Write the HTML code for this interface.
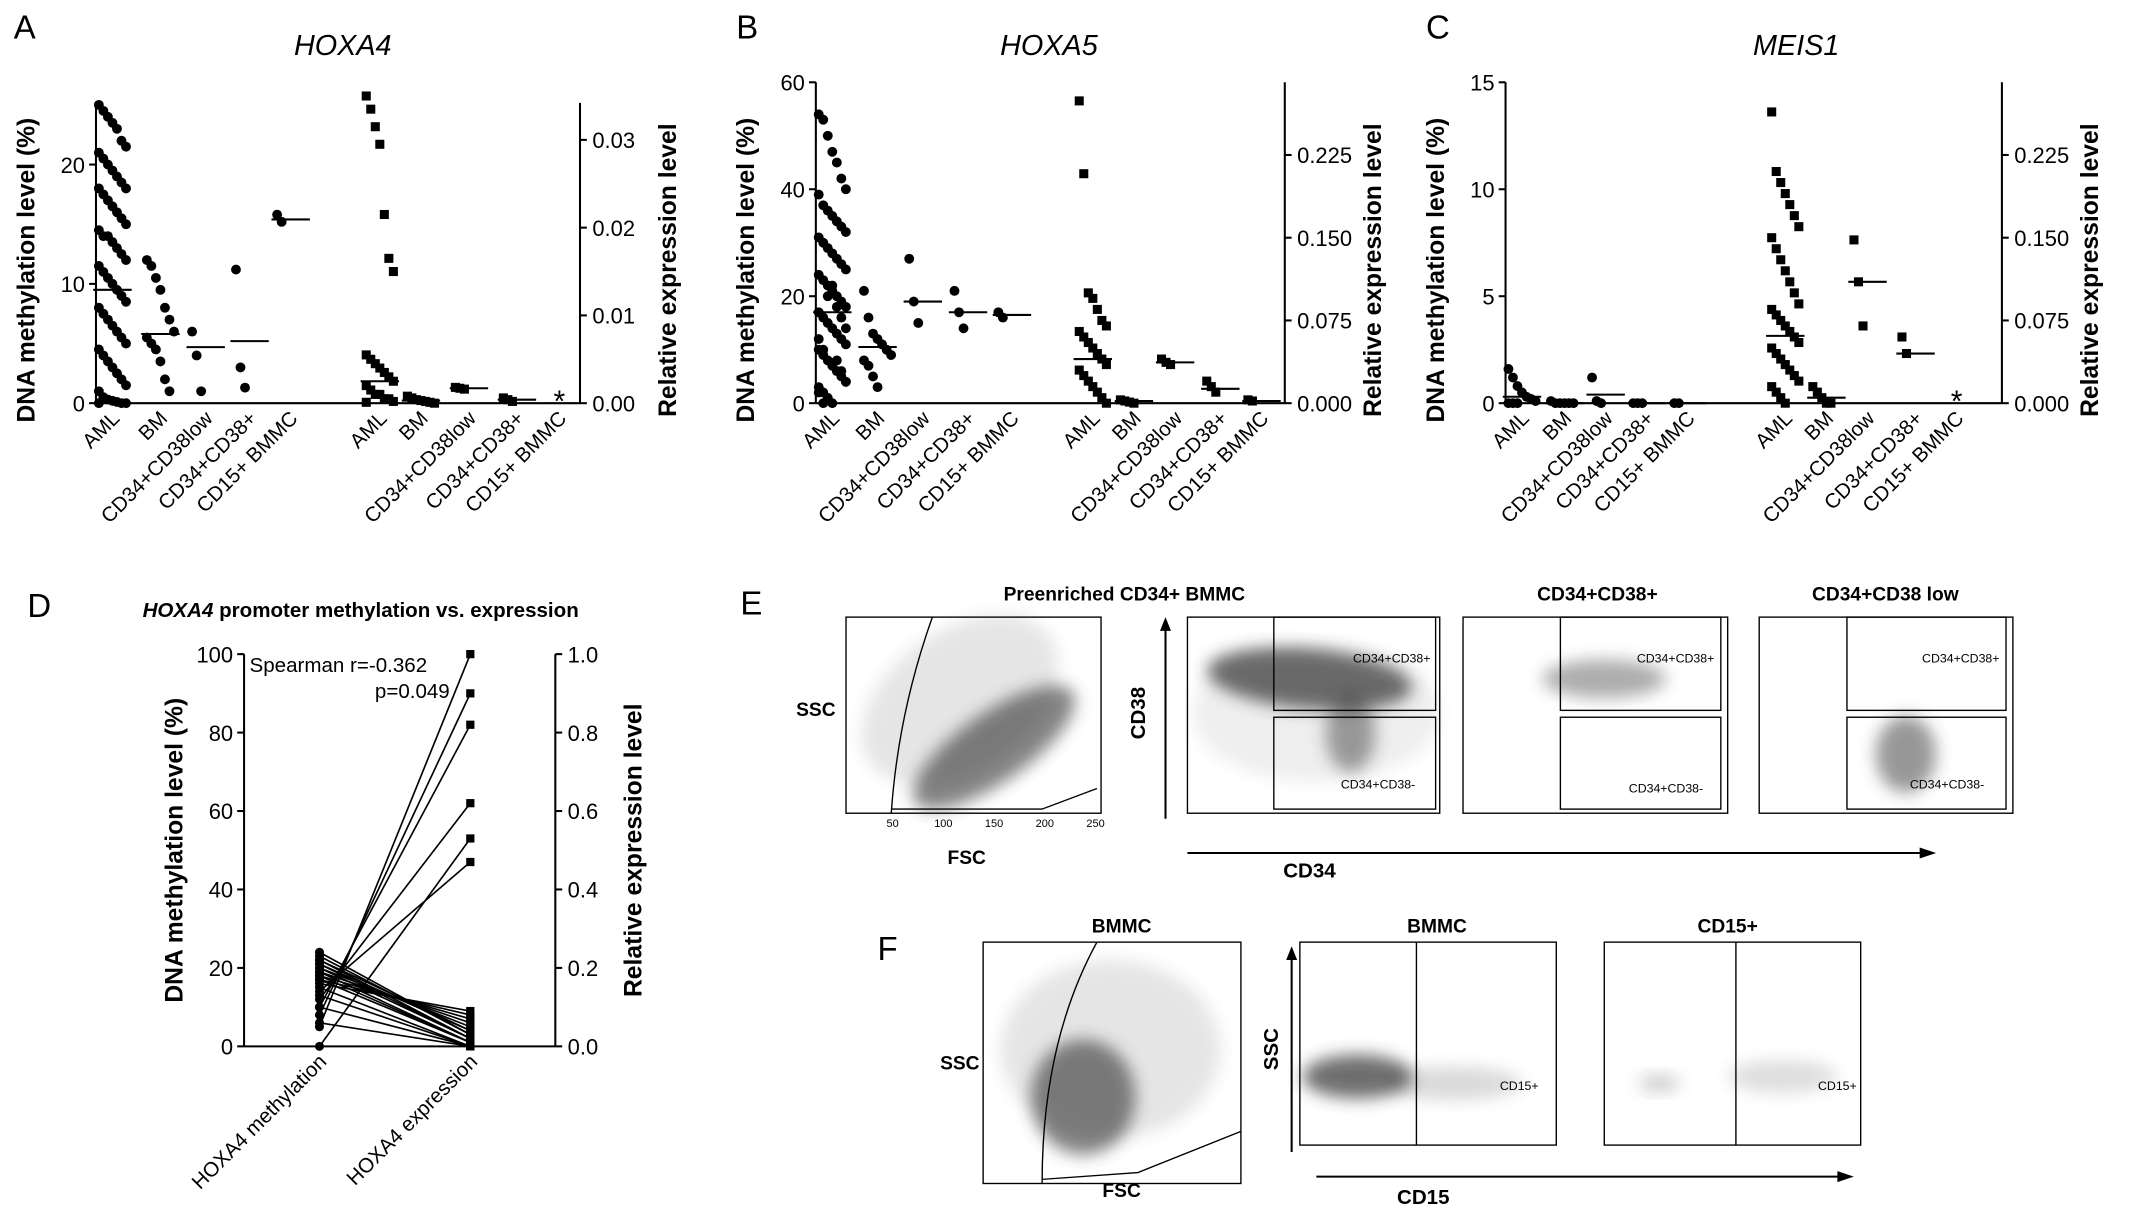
<!DOCTYPE html>
<html><head><meta charset="utf-8"><style>
html,body{margin:0;padding:0;background:#fff}
svg{display:block;font-family:"Liberation Sans",Arial,sans-serif}
</style></head><body>
<svg id="fig" xmlns="http://www.w3.org/2000/svg" width="2150" height="1226" viewBox="0 0 1568 894" preserveAspectRatio="none">
<defs>
<filter id="blur" x="-50%" y="-50%" width="200%" height="200%"><feGaussianBlur stdDeviation="6"/></filter>
</defs>
</svg>
<script>
// ===== Panel A data (HOXA4) =====
const catsA = ["AML","BM","CD34+CD38low","CD34+CD38+","CD15+ BMMC"];
const methA = [
 [25,24.5,24,23.5,23,22,21.5,21,20.5,20,19.5,19,18.5,18,18,17.5,17,16.5,16,15.5,15,14.5,14,14,13.5,13,12.5,12,11.5,11,10.5,10,9.5,9,8.5,8,7.5,7,6.5,6,5.5,5,4.5,4,3.5,3,2.5,2,1.5,1,0.5,0.3,0.2,0.1,0,0,0],
 [12,11.5,10.5,9.5,8,7,6,5.5,5,4.5,3.5,2,1],
 [6,4,1],[11.2,3,1.3],[15.8,15.2]];
const methAMed = [9.5,5.8,4.7,5.2,15.4];
const exprA = [
 [0.035,0.0335,0.0315,0.0295,0.0215,0.0165,0.015,0.0055,0.005,0.0045,0.004,0.0035,0.003,0.0025,0.002,0.0015,0.001,0.001,0.0005,0.0005,0.0002,0.0001],
 [0.0008,0.0006,0.0004,0.0003,0.0002,0.0001,0],
 [0.0018,0.0017,0.0016],[0.0006,0.0004,0.0002],[]];
const exprAMed = [0.0025,0.0003,0.0017,0.0004,null];
const ticksAL = [0,10,20], ticksAR = ["0.00","0.01","0.02","0.03"];
// ===== Panel B data (HOXA5) =====
const methB = [
 [54,53,50,47,45,42,40,39,37,36,35,34,33,32,31,30,29,28,27,26,25,24,23,22,21,20,19,18,17,16,15,14,13,12,11,10,9,8,7,6,5,4,3,2,1,0,18,16,14,12,10,20,22,8,6,4,2,0],
 [21,16,13,12,11,10,9,8,7,5,3],[27,19,15],[21,17,14],[17,16]];
const methBMed = [17,10.5,19,17,16.5];
const exprB = [
 [0.274,0.208,0.1,0.095,0.085,0.075,0.07,0.065,0.06,0.055,0.05,0.045,0.04,0.035,0.03,0.025,0.02,0.015,0.01,0.005,0],
 [0.003,0.002,0.001,0],[0.04,0.037,0.035],[0.02,0.015,0.01],[0.003,0.002]];
const exprBMed = [0.04,0.002,0.037,0.013,0.002];
const ticksBL = [0,20,40,60], ticksBR = ["0.000","0.075","0.150","0.225"];
// ===== Panel C data (MEIS1) =====
const methC = [[1.6,1.2,0.8,0.5,0.3,0.2,0.1,0,0,0],[0.1,0,0,0,0,0],[1.2,0.1,0],[0,0,0],[0,0]];
const methCMed = [0.3,0,0.4,0,0];
const exprC = [
 [0.264,0.21,0.2,0.19,0.18,0.17,0.16,0.15,0.14,0.13,0.12,0.11,0.1,0.09,0.085,0.08,0.075,0.07,0.065,0.06,0.055,0.05,0.045,0.04,0.035,0.03,0.025,0.02,0.015,0.01,0.005,0],
 [0.015,0.01,0.005,0,0],[0.148,0.11,0.07],[0.06,0.045],[]];
const exprCMed = [0.061,0.005,0.11,0.045,null];
const ticksCL = [0,5,10,15], ticksCR = ["0.000","0.075","0.150","0.225"];
// ===== Panel D data =====
const dCats = ["HOXA4 methylation","HOXA4 expression"];
const dMeth = [5,8,10,12,0,14,16,17,18,19,20,21,22,23,24,22,21,20,19,18,17,15,13,10,6];
const dExpr = [1.0,0.9,0.82,0.62,0.53,0.47,0.09,0.08,0.07,0.06,0.05,0.04,0.04,0.03,0.03,0.02,0.02,0.02,0.01,0.01,0.01,0,0,0,0];
const dTicksL = [0,20,40,60,80,100], dTicksR = ["0.0","0.2","0.4","0.6","0.8","1.0"];

const svg = document.getElementById('fig');
const NS = "http://www.w3.org/2000/svg";
function mk(tag, attrs, parent){const e=document.createElementNS(NS,tag);for(const k in attrs)e.setAttribute(k,attrs[k]);(parent||svg).appendChild(e);return e;}
function txt(x,y,s,attrs,parent){const e=mk('text',Object.assign({x:x,y:y},attrs||{}),parent);e.textContent=s;return e;}

function dotPanel(g, cfg){
  const y0=294;
  const yL=v=>y0-(v/cfg.lMax)*(y0-cfg.lTop);
  const yR=v=>y0-(v/cfg.rMax)*(y0-cfg.rTop);
  mk('line',{x1:cfg.xl,y1:cfg.axTop,x2:cfg.xl,y2:y0,stroke:'#000','stroke-width':1.5},g);
  mk('line',{x1:cfg.xr,y1:cfg.axTop,x2:cfg.xr,y2:y0,stroke:'#000','stroke-width':1.5},g);
  mk('line',{x1:cfg.xl,y1:y0,x2:cfg.xr,y2:y0,stroke:'#000','stroke-width':1.5},g);
  cfg.ticksL.forEach(t=>{const y=yL(t);mk('line',{x1:cfg.xl-5,y1:y,x2:cfg.xl,y2:y,stroke:'#000','stroke-width':1.5},g);
    const e=txt(cfg.xl-8,y+6,String(t),{'font-size':16,'text-anchor':'end'},g);});
  cfg.ticksR.forEach(t=>{const y=yR(parseFloat(t));mk('line',{x1:cfg.xr,y1:y,x2:cfg.xr+5,y2:y,stroke:'#000','stroke-width':1.5},g);
    const e=txt(cfg.xr+9,y+6,t,{'font-size':16},g);});
  const yl=txt(0,0,'DNA methylation level (%)',{'font-size':18,'font-weight':'bold','text-anchor':'middle',transform:`translate(${cfg.xl-45},${(y0+60)/2+20}) rotate(-90)`},g);
  
  const yr=txt(0,0,'Relative expression level',{'font-size':18,'font-weight':'bold','text-anchor':'middle',transform:`translate(${cfg.xr+70},${(y0+60)/2+20}) rotate(-90)`},g);
  
  const tt=txt(cfg.titleX,40,cfg.title,{'font-size':21,'font-style':'italic','text-anchor':'middle'},g);
  
  const pl=txt(cfg.labX,28,cfg.lab,{'font-size':24},g);
  
  function group(vals, med, xc, yf, square){
    vals.forEach((v,i)=>{const off=((i%7)-3)*3.3;const y=yf(v);
      const m=square?mk('rect',{x:xc+off-3.3,y:y-3.3,width:6.6,height:6.6,fill:'#000'},g):mk('circle',{cx:xc+off,cy:y,r:3.6,fill:'#000'},g);
      });
    if(med!==null){const l=mk('line',{x1:xc-14,y1:yf(med),x2:xc+14,y2:yf(med),stroke:'#000','stroke-width':1.5},g);
      }
  }
  catsA.forEach((c,i)=>{
    group(cfg.meth[i],cfg.methMed[i],cfg.xm[i],yL,false);
    group(cfg.expr[i],cfg.exprMed[i],cfg.xe[i],yR,true);
    [cfg.xm[i],cfg.xe[i]].forEach(x=>{const e=txt(0,0,c,{'font-size':15,'text-anchor':'end',transform:`translate(${x+6},${y0+12}) rotate(-45)`},g);
      });
  });
  cfg.star.forEach(x=>{const s=txt(x,y0+6,'*',{'font-size':22,'text-anchor':'middle'},g);});
}
let gA=mk('g',{});
dotPanel(gA,{xl:70,xr:423,axTop:75,lMax:20,lTop:120,rMax:0.03,rTop:102,ticksL:ticksAL,ticksR:ticksAR,meth:methA,methMed:methAMed,expr:exprA,exprMed:exprAMed,
 xm:[82,117,150,182,212],xe:[277,307,342,377,408],title:'HOXA4',titleX:250,lab:'A',labX:10,star:[408]});
let gB=mk('g',{});
dotPanel(gB,{xl:595,xr:937,axTop:60,lMax:60,lTop:60,rMax:0.225,rTop:113,ticksL:ticksBL,ticksR:ticksBR,meth:methB,methMed:methBMed,expr:exprB,exprMed:exprBMed,
 xm:[607,640,673,706,738],xe:[797,827,857,890,920],title:'HOXA5',titleX:765,lab:'B',labX:537,star:[]});
let gC=mk('g',{});
dotPanel(gC,{xl:1098,xr:1460,axTop:60,lMax:15,lTop:60,rMax:0.225,rTop:113,ticksL:ticksCL,ticksR:ticksCR,meth:methC,methMed:methCMed,expr:exprC,exprMed:exprCMed,
 xm:[1110,1141,1171,1201,1231],xe:[1302,1332,1362,1397,1427],title:'MEIS1',titleX:1310,lab:'C',labX:1040,star:[1427]});

// ===== Panel D =====
(function(){
 const g=mk('g',{});
 const y0=763,yTop=477,xl=178,xr=405,xa=233,xb=343;
 const yL=v=>y0-v/100*(y0-yTop), yR=v=>y0-v*(y0-yTop);
 mk('line',{x1:xl,y1:yTop,x2:xl,y2:y0,stroke:'#000','stroke-width':1.5},g);
 mk('line',{x1:xr,y1:yTop,x2:xr,y2:y0,stroke:'#000','stroke-width':1.5},g);
 mk('line',{x1:xl,y1:y0,x2:xr,y2:y0,stroke:'#000','stroke-width':1.5},g);
 dTicksL.forEach(t=>{const y=yL(t);mk('line',{x1:xl-5,y1:y,x2:xl,y2:y,stroke:'#000','stroke-width':1.5},g);const e=txt(xl-8,y+6,String(t),{'font-size':16,'text-anchor':'end'},g);});
 dTicksR.forEach(t=>{const y=yR(parseFloat(t));mk('line',{x1:xr,y1:y,x2:xr+5,y2:y,stroke:'#000','stroke-width':1.5},g);const e=txt(xr+9,y+6,t,{'font-size':16},g);});
 dMeth.forEach((m,i)=>{const l=mk('line',{x1:xa,y1:yL(m),x2:xb,y2:yR(dExpr[i]),stroke:'#000','stroke-width':1.2},g);
   const c=mk('circle',{cx:xa,cy:yL(m),r:3.3,fill:'#000'},g);
   const s=mk('rect',{x:xb-3,y:yR(dExpr[i])-3,width:6,height:6,fill:'#000'},g);});
 dCats.forEach((c,i)=>{const x=i?xb:xa;const e=txt(0,0,c,{'font-size':15,'text-anchor':'end',transform:`translate(${x+6},${y0+12}) rotate(-45)`},g);});
 let e=txt(0,0,'DNA methylation level (%)',{'font-size':18,'font-weight':'bold','text-anchor':'middle',transform:`translate(133,620) rotate(-90)`},g);
 e=txt(0,0,'Relative expression level',{'font-size':18,'font-weight':'bold','text-anchor':'middle',transform:`translate(468,620) rotate(-90)`},g);
 e=txt(20,450,'D',{'font-size':24},g);
 e=txt(104,450,'',{'font-size':15,'font-weight':'bold'},g);e.innerHTML='<tspan font-style="italic">HOXA4</tspan> promoter methylation vs. expression';
 e=txt(182,490,'Spearman r=-0.362',{'font-size':15},g);
 e=txt(328,509,'p=0.049',{'font-size':15,'text-anchor':'end'},g);
})();

// ===== Flow cytometry panels E & F =====
function flowBox(g,x1,y1,x2,y2,name){const r=mk('rect',{x:x1,y:y1,width:x2-x1,height:y2-y1,fill:'#fff',stroke:'#000','stroke-width':1},g);}
function cloud(g,cx,cy,rx,ry,rot,op){const e=mk('ellipse',{cx:cx,cy:cy,rx:rx,ry:ry,fill:'#333',opacity:op,filter:'url(#blur)',transform:`rotate(${rot} ${cx} ${cy})`},g);}
function label(g,x,y,s,size,bold,anchor,name,rot){const a={'font-size':size,'text-anchor':anchor||'middle'};if(bold)a['font-weight']='bold';if(rot){a.transform=`rotate(-90 ${x} ${y})`;}const e=txt(x,y,s,a,g);return e;}
function gate(g,x1,y1,x2,y2,lab,lx,ly){const r=mk('rect',{x:x1,y:y1,width:x2-x1,height:y2-y1,fill:'none',stroke:'#000','stroke-width':1},g);label(g,lx,ly,lab,9,false,'middle','gate-label');}
(function(){
 const g=mk('g',{});
 label(g,540,448,'E',24,false,'start','panel-label');
 label(g,820,438,'Preenriched CD34+ BMMC',14,true,'middle','plot-title');
 label(g,1165,438,'CD34+CD38+',14,true,'middle','plot-title');
 label(g,1375,438,'CD34+CD38 low',14,true,'middle','plot-title');
 flowBox(g,617,450,803,593,'fsc-ssc-plot');
 cloud(g,725,545,70,25,-35,0.6);cloud(g,700,510,80,50,-35,0.12);
 mk('path',{d:'M650 593 Q655 520 680 450',fill:'none',stroke:'#000'},g);
 mk('path',{d:'M650 590 L760 590 L800 575',fill:'none',stroke:'#000'},g);
 label(g,595,522,'SSC',14,true,'middle','y-axis-title');
 label(g,705,630,'FSC',14,true,'middle','x-axis-title');
 ['50','100','150','200','250'].forEach((t,i)=>label(g,651+i*37,603,t,8,false,'middle','x-tick'));
 flowBox(g,866,450,1050,593,'cd34-cd38-plot');
 cloud(g,955,495,75,22,5,0.7);cloud(g,985,535,18,28,0,0.45);cloud(g,960,520,90,50,0,0.08);
 gate(g,929,450,1047,518,'CD34+CD38+',1015,483);gate(g,929,523,1047,590,'CD34+CD38-',1005,575);
 flowBox(g,1067,450,1260,593,'cd34-cd38pos-plot');
 cloud(g,1170,495,45,14,0,0.4);
 gate(g,1138,450,1255,518,'CD34+CD38+',1222,483);gate(g,1138,523,1255,590,'CD34+CD38-',1215,578);
 flowBox(g,1283,450,1468,593,'cd34-cd38low-plot');
 cloud(g,1390,550,22,28,0,0.5);
 gate(g,1347,450,1463,518,'CD34+CD38+',1430,483);gate(g,1347,523,1463,590,'CD34+CD38-',1420,575);
 label(g,835,520,'CD38',15,true,'middle','y-axis-title',true);
 mk('line',{x1:850,y1:597,x2:850,y2:455,stroke:'#000','stroke-width':1.5},g);
 mk('path',{d:'M846 460 L850 450 L854 460 Z',fill:'#000'},g);
 mk('line',{x1:866,y1:622,x2:1405,y2:622,stroke:'#000','stroke-width':1.5},g);
 mk('path',{d:'M1400 618 L1412 622 L1400 626 Z',fill:'#000'},g);
 label(g,955,640,'CD34',15,true,'middle','x-axis-title');
})();
(function(){
 const g=mk('g',{});
 label(g,640,700,'F',24,false,'start','panel-label');
 label(g,818,680,'BMMC',14,true,'middle','plot-title');
 label(g,1048,680,'BMMC',14,true,'middle','plot-title');
 label(g,1260,680,'CD15+',14,true,'middle','plot-title');
 flowBox(g,717,687,905,863,'fsc-ssc-plot');
 cloud(g,790,800,38,42,0,0.6);cloud(g,810,765,80,65,0,0.12);
 mk('path',{d:'M760 863 Q760 760 800 687',fill:'none',stroke:'#000'},g);
 mk('path',{d:'M760 860 L830 855 L905 825',fill:'none',stroke:'#000'},g);
 label(g,700,780,'SSC',14,true,'middle','y-axis-title');
 label(g,818,873,'FSC',14,true,'middle','x-axis-title');
 flowBox(g,948,687,1135,835,'ssc-cd15-plot');
 cloud(g,990,785,40,16,0,0.7);cloud(g,1060,790,50,12,0,0.18);
 mk('line',{x1:1033,y1:687,x2:1033,y2:835,stroke:'#000'},g);
 label(g,1108,795,'CD15+',9,false,'middle','gate-label');
 flowBox(g,1170,687,1357,835,'cd15pos-plot');
 cloud(g,1300,785,40,12,0,0.16);cloud(g,1210,790,15,6,0,0.25);
 mk('line',{x1:1266,y1:687,x2:1266,y2:835,stroke:'#000'},g);
 label(g,1340,795,'CD15+',9,false,'middle','gate-label');
 label(g,932,765,'SSC',15,true,'middle','y-axis-title',true);
 mk('line',{x1:942,y1:840,x2:942,y2:695,stroke:'#000','stroke-width':1.5},g);
 mk('path',{d:'M938 700 L942 690 L946 700 Z',fill:'#000'},g);
 mk('line',{x1:960,y1:858,x2:1345,y2:858,stroke:'#000','stroke-width':1.5},g);
 mk('path',{d:'M1340 854 L1352 858 L1340 862 Z',fill:'#000'},g);
 label(g,1038,878,'CD15',15,true,'middle','x-axis-title');
})();
</script>
</body></html>
